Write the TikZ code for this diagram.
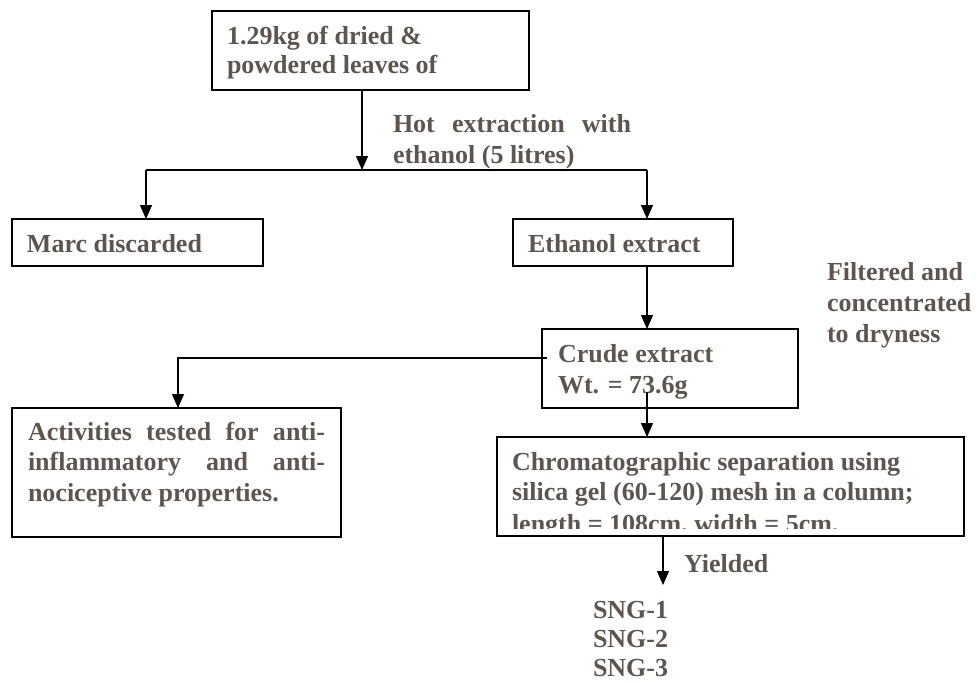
\documentclass[tikz,border=0pt]{standalone}
\usepackage{fontspec}
\setmainfont{Liberation Serif}
\usetikzlibrary{arrows.meta}
\definecolor{txt}{RGB}{94,86,78}
\tikzset{
  box/.style={draw=black, line width=1.8pt, inner sep=0pt, outer sep=0pt, anchor=north west},
  lbl/.style={anchor=base west, inner sep=0pt, outer sep=0pt, text=txt, font=\fontsize{26}{30}\selectfont\bfseries},
  conn/.style={draw=black, line width=1.3pt},
  arr/.style={conn, -{Triangle[width=12pt,length=14pt]}}
}
\begin{document}
\begin{tikzpicture}[x=1pt,y=-1pt]
\useasboundingbox (0,0) rectangle (976,683);
% boxes
\node[box, minimum width=317pt, minimum height=79pt] (src) at (212,11) {};
\node[box, minimum width=251pt, minimum height=47pt] (marc) at (12,219) {};
\node[box, minimum width=220pt, minimum height=47pt] (eth) at (513,219) {};
\node[box, minimum width=256pt, minimum height=79pt] (crude) at (542,329) {};
\node[box, minimum width=329pt, minimum height=129pt] (act) at (12,408) {};
\node[box, minimum width=467pt, minimum height=99pt] (chrom) at (497,437) {};
% texts
\node[lbl] (s1) at (227,44) {1.29kg of dried \&};
\node[lbl] (s2) at (227,73) {powdered leaves of};
\node[lbl] (h1) at (393,132) {\makebox[238pt][s]{Hot extraction with}};
\node[lbl] (h2) at (393,163) {ethanol (5 litres)};
\node[lbl] (m1) at (27,252) {Marc discarded};
\node[lbl] (e1) at (528,252) {Ethanol extract};
\node[lbl] (f1) at (827,280) {Filtered and};
\node[lbl] (f2) at (827,311) {concentrated};
\node[lbl] (f3) at (827,342) {to dryness};
\node[lbl] (c1) at (558,362) {Crude extract};
\node[lbl] (c2) at (558,393) {Wt. = 73.6g};
\node[lbl] (a1) at (28,440) {\makebox[297pt][s]{Activities tested for anti-}};
\node[lbl] (a2) at (28,470) {\makebox[297pt][s]{inflammatory and anti-}};
\node[lbl] (a3) at (28,501) {nociceptive properties.};
\node[lbl] (k1) at (512,470) {Chromatographic separation using};
\node[lbl] (k2) at (512,500) {silica gel (60-120) mesh in a column;};
\begin{scope}
\clip (497,437) rectangle (964,528);
\node[lbl] (k3) at (512,532) {length = 108cm, width = 5cm.};
\end{scope}
\node[lbl] (y1) at (684,572) {Yielded};
\node[lbl] (g1) at (593,618) {SNG-1};
\node[lbl] (g2) at (593,647) {SNG-2};
\node[lbl] (g3) at (593,676) {SNG-3};
% connectors
\coordinate (jt) at (362,170);
\coordinate (jl) at (146,170);
\coordinate (jr) at (647,170);
\draw[arr] (src.south -| jt) -- (jt);
\draw[conn] (jl) -- (jr);
\draw[arr] (jl) -- (marc.north -| jl);
\draw[arr] (jr) -- (eth.north -| jr);
\draw[arr] (eth.south -| jr) -- (crude.north -| jr);
\coordinate (cl) at (547,358);
\coordinate (ca) at (178,358);
\draw[arr] (cl) -- (ca) -- (act.north -| ca);
\coordinate (cb) at (647,392);
\draw[arr] (cb) -- (chrom.north -| cb);
\coordinate (sy) at (663,585);
\draw[arr] (chrom.south -| sy) -- (sy);
\end{tikzpicture}
\end{document}
